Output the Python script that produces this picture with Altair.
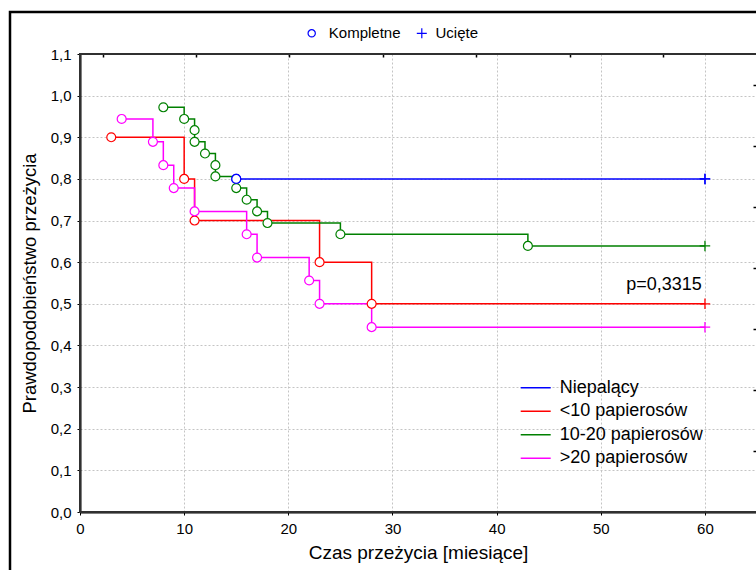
import altair as alt
import pandas as pd

# ---------------- data ----------------
groups = ["Niepalący", "<10 papierosów", "10-20 papierosów", ">20 papierosów"]
colors = ["#0000FF", "#FF0000", "#008000", "#FF00FF"]

# event (complete) times and Kaplan-Meier survival after each event
t_niep = [15]
s_niep = [0.800]
t_lt10 = [3, 10, 11, 23, 28]
s_lt10 = [0.900, 0.800, 0.700, 0.600, 0.500]
t_1020 = [8, 10, 11, 11, 12, 13, 13, 15, 16, 17, 18, 25, 43]
s_1020 = [0.972, 0.944, 0.917, 0.889, 0.861, 0.833, 0.806, 0.778, 0.750,
          0.722, 0.694, 0.667, 0.639]
t_gt20 = [4, 7, 8, 9, 11, 16, 17, 22, 23, 28]
s_gt20 = [0.944, 0.889, 0.833, 0.778, 0.722, 0.667, 0.611, 0.556, 0.500, 0.444]

# censored observations (one per group)
t_cens = [60, 60, 60, 60]
s_cens = [0.800, 0.500, 0.639, 0.444]

kinds = ["Kompletne", "Ucięte"]
kind_color = "#0000FF"

x_ticks = [0, 10, 20, 30, 40, 50, 60]
y_ticks = [0.0, 0.1, 0.2, 0.3, 0.4, 0.5, 0.6, 0.7, 0.8, 0.9, 1.0, 1.1]
top_ticks = [1, 2, 3, 4, 5, 6, 7]
right_ticks = [1, 2, 3, 4, 5, 6, 7]

p_label = ["p=0,3315"]
p_x = [59.7]
p_y = [0.533]

# ---------------- table ----------------
event_t = [t_niep, t_lt10, t_1020, t_gt20]
event_s = [s_niep, s_lt10, s_1020, s_gt20]
rows = []
for gi, g in enumerate(groups):
    i = 0
    for t, s in zip(event_t[gi], event_s[gi]):
        rows.append({"grupa": g, "t": t, "s": s, "typ": kinds[0], "i": i})
        i += 1
    rows.append({"grupa": g, "t": t_cens[gi], "s": s_cens[gi], "typ": kinds[1], "i": i})
df = pd.DataFrame(rows)
df_events = df[df["typ"] == kinds[0]]
df_cens = df[df["typ"] == kinds[1]]
df_blue_events = df_events[df_events["grupa"] == groups[0]]
df_blue_cens = df_cens[df_cens["grupa"] == groups[0]]

FONT = "Liberation Sans"
plus_path = "M-1,0H1M0,-1V1"

xs = alt.Scale(domain=[0, 64.9], nice=False, zero=False)
ys = alt.Scale(domain=[0, 1.1], nice=False, zero=False)
stroke_scale = alt.Scale(domain=groups, range=colors)

x_axis = alt.Axis(
    values=x_ticks, title="Czas przeżycia [miesiące]", titleFontSize=19,
    titleFontWeight="normal", titleColor="black", titlePadding=7,
    labelFontSize=15, labelColor="black", labelPadding=6, tickSize=3,
    tickColor="black", domainColor="black", domainWidth=2,
    grid=True, gridDash=[2, 2], gridColor="#c4c4c4", gridWidth=1, labelFlush=False,
)
y_axis = alt.Axis(
    values=y_ticks, labelExpr="replace(format(datum.value, '.1f'), '.', ',')",
    title="Prawdopodobieństwo przeżycia", titleFontSize=18.5,
    titleFontWeight="normal", titleColor="black", titlePadding=11,
    labelFontSize=15, labelColor="black", labelPadding=6, tickSize=3,
    tickColor="black", domainColor="black", domainWidth=2,
    grid=True, gridDash=[2, 2], gridColor="#c4c4c4", gridWidth=1, labelFlush=False,
)

lines = alt.Chart(df).mark_line(interpolate="step-after", strokeWidth=1.5).encode(
    x=alt.X("t:Q", scale=xs, axis=x_axis),
    y=alt.Y("s:Q", scale=ys, axis=y_axis),
    color=alt.Color(
        "grupa:N", scale=alt.Scale(domain=groups, range=colors),
        legend=alt.Legend(
            orient="none", legendX=439.7, legendY=324.7, title=None,
            symbolType="stroke", symbolSize=900, symbolStrokeWidth=1.5,
            clipHeight=18, rowPadding=5.5, labelFontSize=18, labelColor="black",
            labelOffset=8, padding=0, labelFont=FONT,
        ),
    ),
    order="i:Q",
)

circles = alt.Chart(df_events).mark_point(
    shape="circle", fill="white", fillOpacity=1, strokeWidth=1.2, opacity=1, size=80
).encode(
    x=alt.X("t:Q", scale=xs),
    y=alt.Y("s:Q", scale=ys),
    stroke=alt.Stroke("grupa:N", scale=stroke_scale, legend=None),
)
crosses = alt.Chart(df_cens).mark_point(
    shape=plus_path, strokeWidth=1.3, opacity=1, size=110
).encode(
    x=alt.X("t:Q", scale=xs),
    y=alt.Y("s:Q", scale=ys),
    stroke=alt.Stroke("grupa:N", scale=stroke_scale, legend=None),
)

# the blue group's own markers drawn again in blue; they carry the symbol legend
legend_c = alt.Chart(df_blue_events).mark_point(
    shape="circle", fill="white", fillOpacity=1, strokeWidth=1.2, opacity=1, size=80
).encode(
    x=alt.X("t:Q", scale=xs),
    y=alt.Y("s:Q", scale=ys),
    stroke=alt.Stroke(
        "typ:N", scale=alt.Scale(domain=[kinds[0]], range=[kind_color]),
        legend=alt.Legend(
            orient="none", legendX=224.2, legendY=-28.2, title=None,
            symbolType="circle", symbolSize=53, symbolStrokeWidth=1.2,
            labelFontSize=15, labelColor="black", labelOffset=9.6, padding=0,
            labelFont=FONT,
        ),
    ),
)
legend_p = alt.Chart(df_blue_cens).mark_point(
    shape=plus_path, strokeWidth=1.3, opacity=1, size=110
).encode(
    x=alt.X("t:Q", scale=xs),
    y=alt.Y("s:Q", scale=ys),
    stroke=alt.Stroke(
        "typ:N", scale=alt.Scale(domain=[kinds[1]], range=[kind_color]),
        legend=alt.Legend(
            orient="none", legendX=334.3, legendY=-28.2, title=None,
            symbolType=plus_path, symbolSize=100, symbolStrokeWidth=1.2,
            labelFontSize=15, labelColor="black", labelOffset=6.2, padding=0,
            labelFont=FONT,
        ),
    ),
)

ptext = alt.Chart(pd.DataFrame({"x": p_x, "y": p_y, "label": p_label})).mark_text(
    align="right", baseline="alphabetic", fontSize=18, font=FONT, color="black"
).encode(x=alt.X("x:Q", scale=xs), y=alt.Y("y:Q", scale=ys), text="label:N")

# outer figure frame and plot border (right side lies beyond the visible page)
frame = alt.Chart(pd.DataFrame({"a": [0]})).mark_rect(
    fillOpacity=0, stroke="black", strokeWidth=2.5
).encode(x=alt.value(-70), x2=alt.value(700), y=alt.value(-42), y2=alt.value(560))
border = alt.Chart(pd.DataFrame({"a": [0]})).mark_rect(
    fillOpacity=0, stroke="#303030", strokeWidth=2
).encode(x=alt.value(0), x2=alt.value(700), y=alt.value(0), y2=alt.value(458))

main = alt.layer(
    frame, border, lines, circles, crosses, legend_c, legend_p, ptext
).resolve_scale(stroke="independent")

ticks_layer = alt.Chart(pd.DataFrame({"u": [1], "w": [1]})).mark_point(opacity=0).encode(
    x=alt.X("u:Q", scale=alt.Scale(domain=[0.757, 7.995], nice=False, zero=False),
            axis=alt.Axis(orient="top", values=top_ticks, labels=False, domain=False,
                          tickSize=3, offset=-3, grid=False, title=None,
                          tickColor="black", tickWidth=1.5)),
    y=alt.Y("w:Q", scale=alt.Scale(domain=[0, 7.508], nice=False, zero=False),
            axis=alt.Axis(orient="right", values=right_ticks, labels=False, domain=False,
                          tickSize=3, offset=-3, grid=False, title=None,
                          tickColor="black", tickWidth=1.5)),
)

chart = alt.layer(main, ticks_layer).resolve_scale(
    x="independent", y="independent"
).properties(
    width=676, height=458,
    autosize=alt.AutoSizeParams(type="none"),
    padding={"left": 80, "top": 54, "right": 0, "bottom": 58},
).configure(font=FONT).configure_view(stroke=None)

chart.save("out.html", embed_options={"renderer": "svg", "actions": False})
